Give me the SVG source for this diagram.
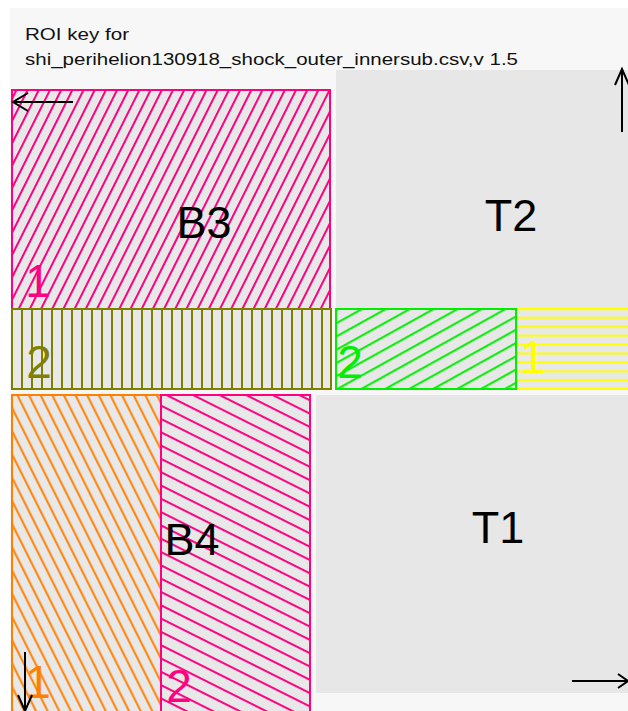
<svg xmlns="http://www.w3.org/2000/svg" width="628" height="711" viewBox="0 0 628 711">
<style>
.hdr{font-family:"Liberation Sans",Arial,sans-serif;font-size:17px;fill:#111}
.big{font-family:"Liberation Sans",Arial,sans-serif;font-size:45px;fill:#000;text-anchor:middle}
.num{font-family:"Liberation Sans",Arial,sans-serif;font-size:46px;text-anchor:middle}
.gray{fill:#e7e7e7}
.arr{stroke:#000;stroke-width:2;fill:none}
</style>
<defs>
<pattern id="pB3" width="10" height="10" patternUnits="userSpaceOnUse" patternTransform="rotate(26.6)">
<rect width="10" height="10" fill="#e8e8e8"/><line x1="5" y1="-1" x2="5" y2="11" stroke="#ff0080" stroke-width="2"/></pattern>
<pattern id="pOl" width="10" height="10" patternUnits="userSpaceOnUse">
<rect width="10" height="10" fill="#e8e8e8"/><line x1="2" y1="-1" x2="2" y2="11" stroke="#808000" stroke-width="2"/></pattern>
<pattern id="pGr" width="11.6" height="11.6" patternUnits="userSpaceOnUse" patternTransform="rotate(-29)">
<rect width="11.6" height="11.6" fill="#e8e8e8"/><line x1="-1" y1="5" x2="12.6" y2="5" stroke="#00ee00" stroke-width="2"/></pattern>
<pattern id="pYe" width="10" height="8.9" patternUnits="userSpaceOnUse">
<rect width="10" height="8.9" fill="#e8e8e8"/><line x1="-1" y1="6.4" x2="11" y2="6.4" stroke="#ffff00" stroke-width="2"/></pattern>
<pattern id="pOr" width="10.4" height="10.4" patternUnits="userSpaceOnUse" patternTransform="rotate(-26.6)">
<rect width="10.4" height="10.4" fill="#e8e8e8"/><line x1="5" y1="-1" x2="5" y2="11.4" stroke="#ff8000" stroke-width="2"/></pattern>
<pattern id="pB4" width="11.9" height="11.9" patternUnits="userSpaceOnUse" patternTransform="rotate(26.6)">
<rect width="11.9" height="11.9" fill="#e8e8e8"/><line x1="-1" y1="5" x2="12.9" y2="5" stroke="#ff0080" stroke-width="2"/></pattern>
</defs>
<rect width="628" height="711" fill="#ffffff"/>
<rect x="10" y="8" width="618" height="703" fill="#f7f7f7"/>
<text class="hdr" x="25" y="40" textLength="104" lengthAdjust="spacingAndGlyphs">ROI key for</text>
<text class="hdr" x="25" y="65" textLength="493" lengthAdjust="spacingAndGlyphs">shi_perihelion130918_shock_outer_innersub.csv,v 1.5</text>
<g id="T2"><rect class="gray" x="336" y="70" width="292" height="238"/><text class="big" x="511" y="231">T2</text></g>
<g id="T1"><rect class="gray" x="316" y="395" width="312" height="298"/><text class="big" x="498" y="543">T1</text></g>
<g id="B3-1"><rect x="12" y="90" width="318" height="219" fill="url(#pB3)" stroke="#ff0080" stroke-width="2"/><text class="big" x="204" y="238">B3</text><text class="num" x="38" y="297" fill="#ff0080">1</text></g>
<g id="B3-2"><rect x="12" y="309" width="319" height="80" fill="url(#pOl)" stroke="#808000" stroke-width="2"/><text class="num" x="39" y="378" fill="#808000">2</text></g>
<g id="T-1"><rect x="516" y="309" width="114" height="80" fill="url(#pYe)" stroke="#ffff00" stroke-width="2"/><text class="num" x="533" y="373" fill="#ffff00">1</text></g>
<g id="T-2"><rect x="336" y="309" width="180" height="80" fill="url(#pGr)" stroke="#00ee00" stroke-width="2"/><text class="num" x="350" y="378" fill="#00ee00">2</text></g>
<g id="B4-1"><rect x="12" y="395" width="149" height="320" fill="url(#pOr)" stroke="#ff8000" stroke-width="2"/><text class="num" x="38" y="698" fill="#ff8000">1</text></g>
<g id="B4-2"><rect x="161" y="395" width="149" height="320" fill="url(#pB4)" stroke="#ff0080" stroke-width="2"/><text class="big" x="192" y="555">B4</text><text class="num" x="179" y="702" fill="#ff0080">2</text></g>
<g id="arrows">
<path class="arr" d="M73,102 H13 M28,93 L13,102 L28,111"/>
<path class="arr" d="M622,132 V69 M615,85 L622,69 L629,85"/>
<path class="arr" d="M25,652 V711 M18,695 L25,711 L32,695"/>
<path class="arr" d="M572,681 H628 M618,674 L628,681 L618,688"/>
</g>
</svg>
